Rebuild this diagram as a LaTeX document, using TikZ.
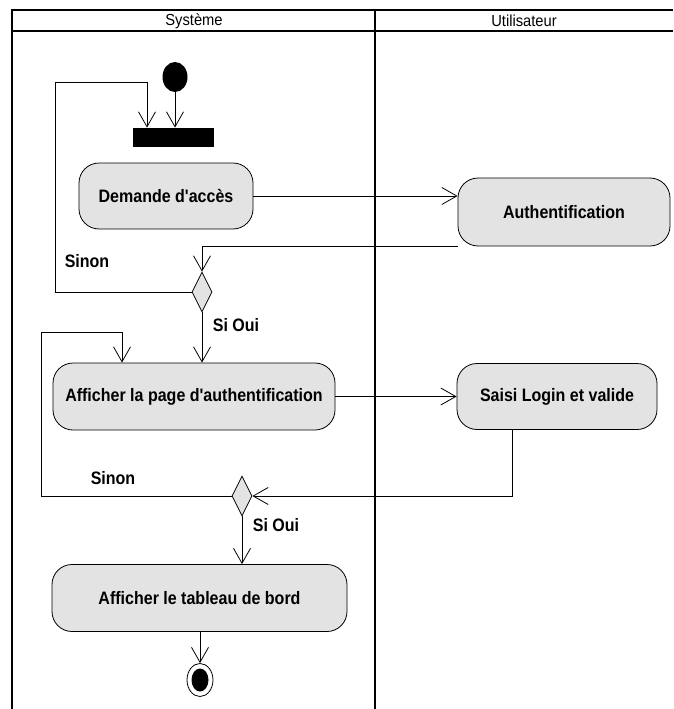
\documentclass[tikz,border=0pt]{standalone}
\usepackage{fontspec}
\setmainfont{Liberation Sans}
\newfontfamily\actfont[FakeStretch=0.89]{Liberation Sans}
\newfontfamily\lanefont[FakeStretch=0.92]{Liberation Sans}
\usetikzlibrary{arrows.meta,shapes.geometric}
\begin{document}
\begin{tikzpicture}[x=1pt,y=-1pt,line width=0.8pt,>={Straight Barb[length=15pt,width=17pt]},
	act/.style={draw,fill=gray!22,rounded corners=20pt,inner sep=0pt,font=\actfont\bfseries\fontsize{18}{21}\selectfont},
	choix/.style={diamond,draw,fill=gray!22,aspect=0.5,minimum width=20pt,minimum height=40pt,inner sep=0pt},
	lbl/.style={font=\actfont\bfseries\fontsize{18}{21}\selectfont},
	lane/.style={font=\lanefont\fontsize{16}{18}\selectfont}]
	\useasboundingbox (0,0) rectangle (673,709);
	\draw[line width=2.2pt] (12,709) -- (12,10) -- (673,10);
	\draw[line width=2.6pt] (12,31) -- (673,31);
	\draw[line width=2.2pt] (375,10) -- (375,709);
	\node[lane] (systeme) at (194,21) {Système};
	\node[lane] (utilisateur) at (524,21) {Utilisateur};
	\node[ellipse,fill=black,minimum width=25pt,minimum height=30pt,inner sep=0pt] (init) at (175,77) {};
	\node[fill=black,minimum width=81pt,minimum height=19pt,inner sep=0pt] (fork) at (173.5,137.5) {};
	\node[act,minimum width=174pt,minimum height=66pt] (demande) at (166,196) {Demande d'accès};
	\node[act,minimum width=212pt,minimum height=68pt] (auth) at (564,212) {Authentification};
	\node[choix] (d1) at (202,292) {};
	\node[act,minimum width=282pt,minimum height=67pt] (page) at (194,396.5) {Afficher la page d'authentification};
	\node[act,minimum width=200pt,minimum height=66pt] (saisi) at (557,396.5) {Saisi Login et valide};
	\node[choix] (d2) at (242,496) {};
	\node[act,minimum width=295pt,minimum height=67pt] (tableau) at (199.5,598) {Afficher le tableau de bord};
	\node[ellipse,draw,fill=white,minimum width=26pt,minimum height=33pt,inner sep=0pt] (fin) at (200,680) {};
	\node[ellipse,fill=black,minimum width=17pt,minimum height=23pt,inner sep=0pt] (fincoeur) at (fin) {};
	\node[lbl] (sinon1) at (87,261) {Sinon};
	\node[lbl] (sioui1) at (236,325) {Si Oui};
	\node[lbl] (sinon2) at (113,478) {Sinon};
	\node[lbl] (sioui2) at (276,525) {Si Oui};
	\coordinate (boucle1) at (55,82);
	\coordinate (boucle2) at (41,332);
	\draw[->] (init.south) -- (init.south |- fork.north);
	\draw[->] (d1.west) -| (boucle1) -| ([xshift=-26.5pt]fork.north);
	\draw[->] (demande.east) -- (auth.west |- demande.east);
	\draw[->] (auth.south west) -| (d1.north);
	\draw[->] (d1.south) -- (d1.south |- page.north);
	\draw[->] (page.east) -- (saisi.west);
	\draw[->] ([xshift=-45pt]saisi.south) |- (d2.east);
	\draw[->] (d2.west) -| (boucle2) -| ([xshift=-72pt]page.north);
	\draw[->] (d2.south) -- (d2.south |- tableau.north);
	\draw[->] (tableau.south -| fin.north) -- (fin.north);
\end{tikzpicture}
\end{document}
